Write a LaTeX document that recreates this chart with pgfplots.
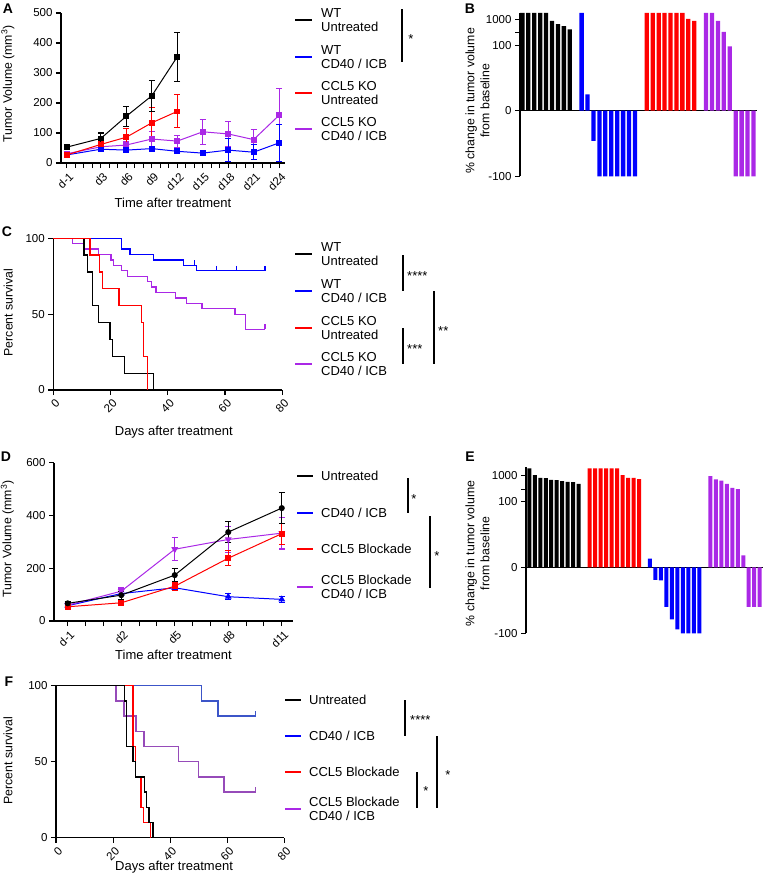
\documentclass[border=0pt]{standalone}
\usepackage{fontspec}
\setmainfont{Liberation Sans}
\usepackage{pgfplots}
\pgfplotsset{compat=1.18}
\definecolor{gpblue}{RGB}{0,0,255}
\definecolor{gpred}{RGB}{255,0,0}
\definecolor{gppurple}{RGB}{170,40,230}
\definecolor{fblue}{RGB}{60,85,200}
\definecolor{fpurple}{RGB}{150,75,185}
\newcommand{\tickfont}{\fontsize{11.5}{13}\selectfont}
\newcommand{\labfont}{\fontsize{13}{14.5}\selectfont}
\newcommand{\yfont}{\fontsize{12.3}{15}\selectfont}
\newcommand{\letfont}{\fontsize{14}{16}\selectfont\bfseries}
\pgfplotsset{
  gp/.style={scale only axis, anchor=south west,
    axis x line*=bottom, axis y line*=left,
    axis line style={line width=1.1pt},
    tick align=outside, major tick length=5pt, minor tick length=5pt,
    major tick style={line width=1.1pt,black}, minor tick style={line width=1.1pt,black},
    tick label style={font=\tickfont},
    /pgf/number format/assume math mode=true, clip=false,
    xlabel style={font=\labfont, anchor=center},
    ylabel style={font=\yfont, anchor=center}},
  eb/.style={error bars/.cd, y dir=both, y explicit, error mark=-,
    error bar style={line width=1.1pt}, error mark options={rotate=90, line width=1.1pt, mark size=3pt}},
  km/.style={const plot, line width=1.3pt},
  cens/.style={only marks, mark=|, mark size=2.5pt, mark options={yshift=2.5pt, line width=1.3pt}},
}
\begin{document}
\begin{tikzpicture}
\useasboundingbox (0pt,0pt) rectangle (764pt,-884pt);

% ---------------- A ----------------
\begin{axis}[gp, at={(61pt,-163pt)}, width=224pt, height=150pt,
  xmin=-1.7, xmax=24.7, ymin=0, ymax=500,
  xtick={-1,3,6,9,12,15,18,21,24},
  xticklabels={d-1,d3,d6,d9,d12,d15,d18,d21,d24},
  minor xtick={0,1,2,4,5,7,8,10,11,13,14,16,17,19,20,22,23},
  ytick={0,100,200,300,400,500},
  xticklabel style={rotate=45, anchor=north east, xshift=2pt},
  xlabel={Time after treatment}, ylabel={Tumor Volume (mm\textsuperscript{3})},
  xlabel style={at={(axis description cs:0.5,-0.267)}},
  ylabel style={at={(axis description cs:-0.237,0.527)}}]
\addplot[gppurple, line width=1pt, mark=square*, mark size=2.4pt, eb] table[x=x,y=y,y error=e] {
x y e
-1 31 5
3 54 8
6 60 10
9 80 25
12 73 20
15 104 41
18 97 42
21 78 33
24 159 90
};
\addplot[gpblue, line width=1pt, mark=square*, mark size=2.4pt, eb] table[x=x,y=y,y error=e] {
x y e
-1 27 5
3 46 6
6 43 6
9 48 8
12 39 8
15 33 8
18 43 39
21 36 25
24 67 62
};
\addplot[gpred, line width=1pt, mark=square*, mark size=2.4pt, eb] table[x=x,y=y,y error=e] {
x y e
-1 27 5
3 62 8
6 86 30
9 134 50
12 172 55
};
\addplot[black, line width=1pt, mark=square*, mark size=2.4pt, eb] table[x=x,y=y,y error=e] {
x y e
-1 53 8
3 82 18
6 156 33
9 224 52
12 354 82
};
\end{axis}

% ---------------- B ----------------
\begin{axis}[gp, at={(520pt,-176.3pt)}, width=237pt, height=163.6pt,
  axis x line*=middle, xtick=\empty,
  xmin=-0.4, xmax=39.6, ymin=-100, ymax=3300,
  y coord trafo/.code={\pgfmathparse{(#1>100)*(119.3+19.8*ln(max(abs(#1),1)/100)/ln(10))+(#1<=100)*#1}},
  ytick={-100,0,100,100.001,1000}, yticklabels={-100,0,100,,1000},
  ylabel={\% change in tumor volume\\from baseline},
  ylabel style={align=center, at={(axis description cs:-0.179,0.461)}}]
\addplot[ybar, bar width=4.3pt, bar shift=0pt, fill=black, draw=none] coordinates {
(0,3240)(1,3240)(2,3240)(3,3240)(4,3240)(5,792)(6,436)(7,305)(8,171)};
\addplot[ybar, bar width=4.3pt, bar shift=0pt, fill=gpblue, draw=none] coordinates {
(10,3240)(11,25)(12,-46)(13,-100)(14,-100)(15,-100)(16,-100)(17,-100)(18,-100)(19,-100)};
\addplot[ybar, bar width=4.3pt, bar shift=0pt, fill=gpred, draw=none] coordinates {
(21,3240)(22,3240)(23,3240)(24,3240)(25,3240)(26,3240)(27,3240)(28,1084)(29,792)};
\addplot[ybar, bar width=4.3pt, bar shift=0pt, fill=gppurple, draw=none] coordinates {
(31,3240)(32,3240)(33,792)(34,112)(35,98)(36,-100)(37,-100)(38,-100)(39,-100)};
\end{axis}

% ---------------- C ----------------
\begin{axis}[gp, at={(53.3pt,-390pt)}, width=229pt, height=151.7pt,
  xmin=0, xmax=80, ymin=0, ymax=100,
  xtick={0,20,40,60,80}, ytick={0,50,100},
  xticklabel style={rotate=45, anchor=north east, xshift=2pt},
  xlabel={Days after treatment}, ylabel={Percent survival},
  xlabel style={at={(axis description cs:0.526,-0.275)}},
  ylabel style={at={(axis description cs:-0.197,0.511)}}]
\addplot[gpblue, km] coordinates {(0,100)(23.9,92.9)(26.8,89.3)(35,85.7)(45.5,82.1)(50,78.6)(74,78.6)};
\addplot[gpblue, cens] coordinates {(49.3,82.1)(57.1,78.6)(64.1,78.6)(74,78.6)};
\addplot[gppurple, km] coordinates {(0,100)(6.8,96.4)(11,92.9)(15.7,89.3)(20.2,85.7)(21,82.1)(23.9,78.6)(26,75)(33,71.4)(34.4,67.9)(35.9,64.3)(42.8,60.7)(46.6,57.1)(51.9,53.6)(63.5,50)(67.2,40)(74,40)};
\addplot[gppurple, cens] coordinates {(74,40)};
\addplot[black, km] coordinates {(0,100)(10.7,88.9)(11.9,77.8)(13.75,55.6)(15.7,44.4)(19.8,33.3)(20.6,22.2)(24.8,11.1)(35,0)};
\addplot[gpred, km] coordinates {(0,100)(12.8,88.9)(16.2,77.8)(17.1,66.7)(23,55.6)(30.9,44.4)(31.5,22.2)(33,0)};
\end{axis}

% ---------------- D ----------------
\begin{axis}[gp, at={(54pt,-621pt)}, width=239pt, height=158.3pt,
  xmin=-1.77, xmax=11.63, ymin=0, ymax=600,
  xtick={-1,2,5,8,11}, xticklabels={d-1,d2,d5,d8,d11},
  minor xtick={0,1,3,4,6,7,9,10},
  ytick={0,200,400,600},
  xticklabel style={rotate=45, anchor=north east, xshift=2pt},
  xlabel={Time after treatment}, ylabel={Tumor Volume (mm\textsuperscript{3})},
  xlabel style={at={(axis description cs:0.5,-0.215)}},
  ylabel style={at={(axis description cs:-0.195,0.518)}}]
\addplot[gpblue, line width=1pt, mark=triangle*, mark size=3pt, eb] table[x=x,y=y,y error=e] {
x y e
-1 58 5
2 104 8
5 126 8
8 92 12
11 82 12
};
\addplot[gppurple, line width=1pt, mark=triangle*, mark size=3pt, mark options={rotate=180}, eb] table[x=x,y=y,y error=e] {
x y e
-1 60 5
2 113 12
5 272 43
8 309 48
11 333 60
};
\addplot[gpred, line width=1pt, mark=square*, mark size=2.4pt, eb] table[x=x,y=y,y error=e] {
x y e
-1 54 5
2 69 8
5 132 15
8 238 28
11 331 40
};
\addplot[black, line width=1pt, mark=*, mark size=2.5pt, eb] table[x=x,y=y,y error=e] {
x y e
-1 67 5
2 98 15
5 174 25
8 337 40
11 428 60
};
\end{axis}

% ---------------- E ----------------
\begin{axis}[gp, at={(526pt,-633.3pt)}, width=237pt, height=165.9pt,
  axis x line*=middle, xtick=\empty,
  xmin=-0.6, xmax=42.6, ymin=-100, ymax=3700,
  y coord trafo/.code={\pgfmathparse{(#1>100)*(117.8+21.3*ln(max(abs(#1),1)/100)/ln(10))+(#1<=100)*#1}},
  ytick={-100,0,100,100.001,1000}, yticklabels={-100,0,100,,1000},
  ylabel={\% change in tumor volume\\from baseline},
  ylabel style={align=center, at={(axis description cs:-0.205,0.482)}}]
\addplot[ybar, bar width=4pt, bar shift=0pt, fill=black, draw=none] coordinates {
(0,3150)(1,1055)(2,677)(3,643)(4,490)(5,464)(6,394)(7,352)(8,332)(9,253)};
\addplot[ybar, bar width=4pt, bar shift=0pt, fill=gpred, draw=none] coordinates {
(11,3150)(12,3150)(13,3150)(14,3150)(15,3150)(16,3150)(17,1055)(18,677)(19,677)(20,546)};
\addplot[ybar, bar width=4pt, bar shift=0pt, fill=gpblue, draw=none] coordinates {
(22,13)(23,-19)(24,-20)(25,-60)(26,-79)(27,-94)(28,-100)(29,-100)(30,-100)(31,-100)};
\addplot[ybar, bar width=4pt, bar shift=0pt, fill=gppurple, draw=none] coordinates {
(33,897)(34,517)(35,417)(36,253)(37,131)(38,105)(39,18)(40,-60)(41,-60)(42,-60)};
\end{axis}

% ---------------- F ----------------
\begin{axis}[gp, at={(56pt,-837.7pt)}, width=228.3pt, height=152pt,
  xmin=0, xmax=80, ymin=0, ymax=100,
  xtick={0,20,40,60,80}, ytick={0,50,100},
  xticklabel style={rotate=45, anchor=north east, xshift=2pt},
  xlabel={Days after treatment}, ylabel={Percent survival},
  xlabel style={at={(axis description cs:0.517,-0.191)}},
  ylabel style={at={(axis description cs:-0.21,0.507)}}]
\addplot[fblue, km] coordinates {(0,100)(51,90)(56.8,80)(70,80)};
\addplot[fblue, cens] coordinates {(70,80)};
\addplot[fpurple, km] coordinates {(0,100)(21,90)(23.8,80)(28,70)(30.8,60)(43,50)(50,40)(58.9,30)(70,30)};
\addplot[fpurple, cens] coordinates {(70,30)};
\addplot[gpred, km] coordinates {(0,100)(27,60)(27.8,40)(29.8,20)(30.6,10)(33,0)};
\addplot[black, km] coordinates {(0,100)(24.1,90)(24.8,60)(27,50)(27.8,40)(31,30)(31.8,20)(32.6,10)(34,0)};
\end{axis}

% ---------------- legends & annotations ----------------
\begin{scope}[font=\labfont]
% A
\draw[black, line width=1.2pt] (295pt,-20pt) -- (312pt,-20pt);
\draw[gpblue, line width=1.2pt] (295pt,-57pt) -- (312pt,-57pt);
\draw[gpred, line width=1.2pt] (295pt,-93pt) -- (312pt,-93pt);
\draw[gppurple, line width=1.2pt] (295pt,-129pt) -- (312pt,-129pt);
\node[anchor=west, align=left, inner sep=0pt] at (321pt,-20pt) {WT\\Untreated};
\node[anchor=west, align=left, inner sep=0pt] at (321pt,-57pt) {WT\\CD40 / ICB};
\node[anchor=west, align=left, inner sep=0pt] at (321pt,-93pt) {CCL5 KO\\Untreated};
\node[anchor=west, align=left, inner sep=0pt] at (321pt,-129pt) {CCL5 KO\\CD40 / ICB};
\draw[line width=1.1pt] (402pt,-9pt) -- (402pt,-62pt);
\node[inner sep=0pt] at (411pt,-39pt) {*};
% C
\draw[black, line width=1.2pt] (295pt,-254pt) -- (312pt,-254pt);
\draw[gpblue, line width=1.2pt] (295pt,-291pt) -- (312pt,-291pt);
\draw[gpred, line width=1.2pt] (295pt,-328pt) -- (312pt,-328pt);
\draw[gppurple, line width=1.2pt] (295pt,-364pt) -- (312pt,-364pt);
\node[anchor=west, align=left, inner sep=0pt] at (321pt,-254pt) {WT\\Untreated};
\node[anchor=west, align=left, inner sep=0pt] at (321pt,-291pt) {WT\\CD40 / ICB};
\node[anchor=west, align=left, inner sep=0pt] at (321pt,-328pt) {CCL5 KO\\Untreated};
\node[anchor=west, align=left, inner sep=0pt] at (321pt,-364pt) {CCL5 KO\\CD40 / ICB};
\draw[line width=1.1pt] (403pt,-255pt) -- (403pt,-291pt);
\node[anchor=west, inner sep=0pt] at (407pt,-276pt) {****};
\draw[line width=1.1pt] (434pt,-291pt) -- (434pt,-364pt);
\node[anchor=west, inner sep=0pt] at (438pt,-331pt) {**};
\draw[line width=1.1pt] (403pt,-328pt) -- (403pt,-364pt);
\node[anchor=west, inner sep=0pt] at (407pt,-349pt) {***};
% D
\draw[black, line width=1.2pt] (297pt,-476pt) -- (313pt,-476pt);
\draw[gpblue, line width=1.2pt] (297pt,-513pt) -- (313pt,-513pt);
\draw[gpred, line width=1.2pt] (297pt,-549pt) -- (313pt,-549pt);
\draw[gppurple, line width=1.2pt] (297pt,-587pt) -- (313pt,-587pt);
\node[anchor=west, align=left, inner sep=0pt] at (321pt,-476pt) {Untreated};
\node[anchor=west, align=left, inner sep=0pt] at (321pt,-513pt) {CD40 / ICB};
\node[anchor=west, align=left, inner sep=0pt] at (321pt,-549pt) {CCL5 Blockade};
\node[anchor=west, align=left, inner sep=0pt] at (321pt,-587pt) {CCL5 Blockade\\CD40 / ICB};
\draw[line width=1.1pt] (408pt,-478pt) -- (408pt,-513pt);
\node[inner sep=0pt] at (414pt,-499pt) {*};
\draw[line width=1.1pt] (430pt,-516pt) -- (430pt,-588pt);
\node[inner sep=0pt] at (437pt,-556pt) {*};
% F
\draw[black, line width=1.2pt] (285pt,-700pt) -- (301pt,-700pt);
\draw[gpblue, line width=1.2pt] (285pt,-736pt) -- (301pt,-736pt);
\draw[gpred, line width=1.2pt] (285pt,-772pt) -- (301pt,-772pt);
\draw[gppurple, line width=1.2pt] (285pt,-809pt) -- (301pt,-809pt);
\node[anchor=west, align=left, inner sep=0pt] at (309pt,-700pt) {Untreated};
\node[anchor=west, align=left, inner sep=0pt] at (309pt,-736pt) {CD40 / ICB};
\node[anchor=west, align=left, inner sep=0pt] at (309pt,-772pt) {CCL5 Blockade};
\node[anchor=west, align=left, inner sep=0pt] at (309pt,-809pt) {CCL5 Blockade\\CD40 / ICB};
\draw[line width=1.1pt] (405pt,-700pt) -- (405pt,-736pt);
\node[anchor=west, inner sep=0pt] at (410pt,-720pt) {****};
\draw[line width=1.1pt] (437pt,-736pt) -- (437pt,-808pt);
\node[inner sep=0pt] at (448pt,-775pt) {*};
\draw[line width=1.1pt] (417pt,-772pt) -- (417pt,-808pt);
\node[inner sep=0pt] at (426pt,-791pt) {*};
\end{scope}
% panel letters
\node[font=\letfont] at (8pt,-9pt) {A};
\node[font=\letfont] at (470pt,-9pt) {B};
\node[font=\letfont] at (7pt,-232pt) {C};
\node[font=\letfont] at (6pt,-457pt) {D};
\node[font=\letfont] at (470pt,-457pt) {E};
\node[font=\letfont] at (9pt,-682pt) {F};
\end{tikzpicture}
\end{document}
